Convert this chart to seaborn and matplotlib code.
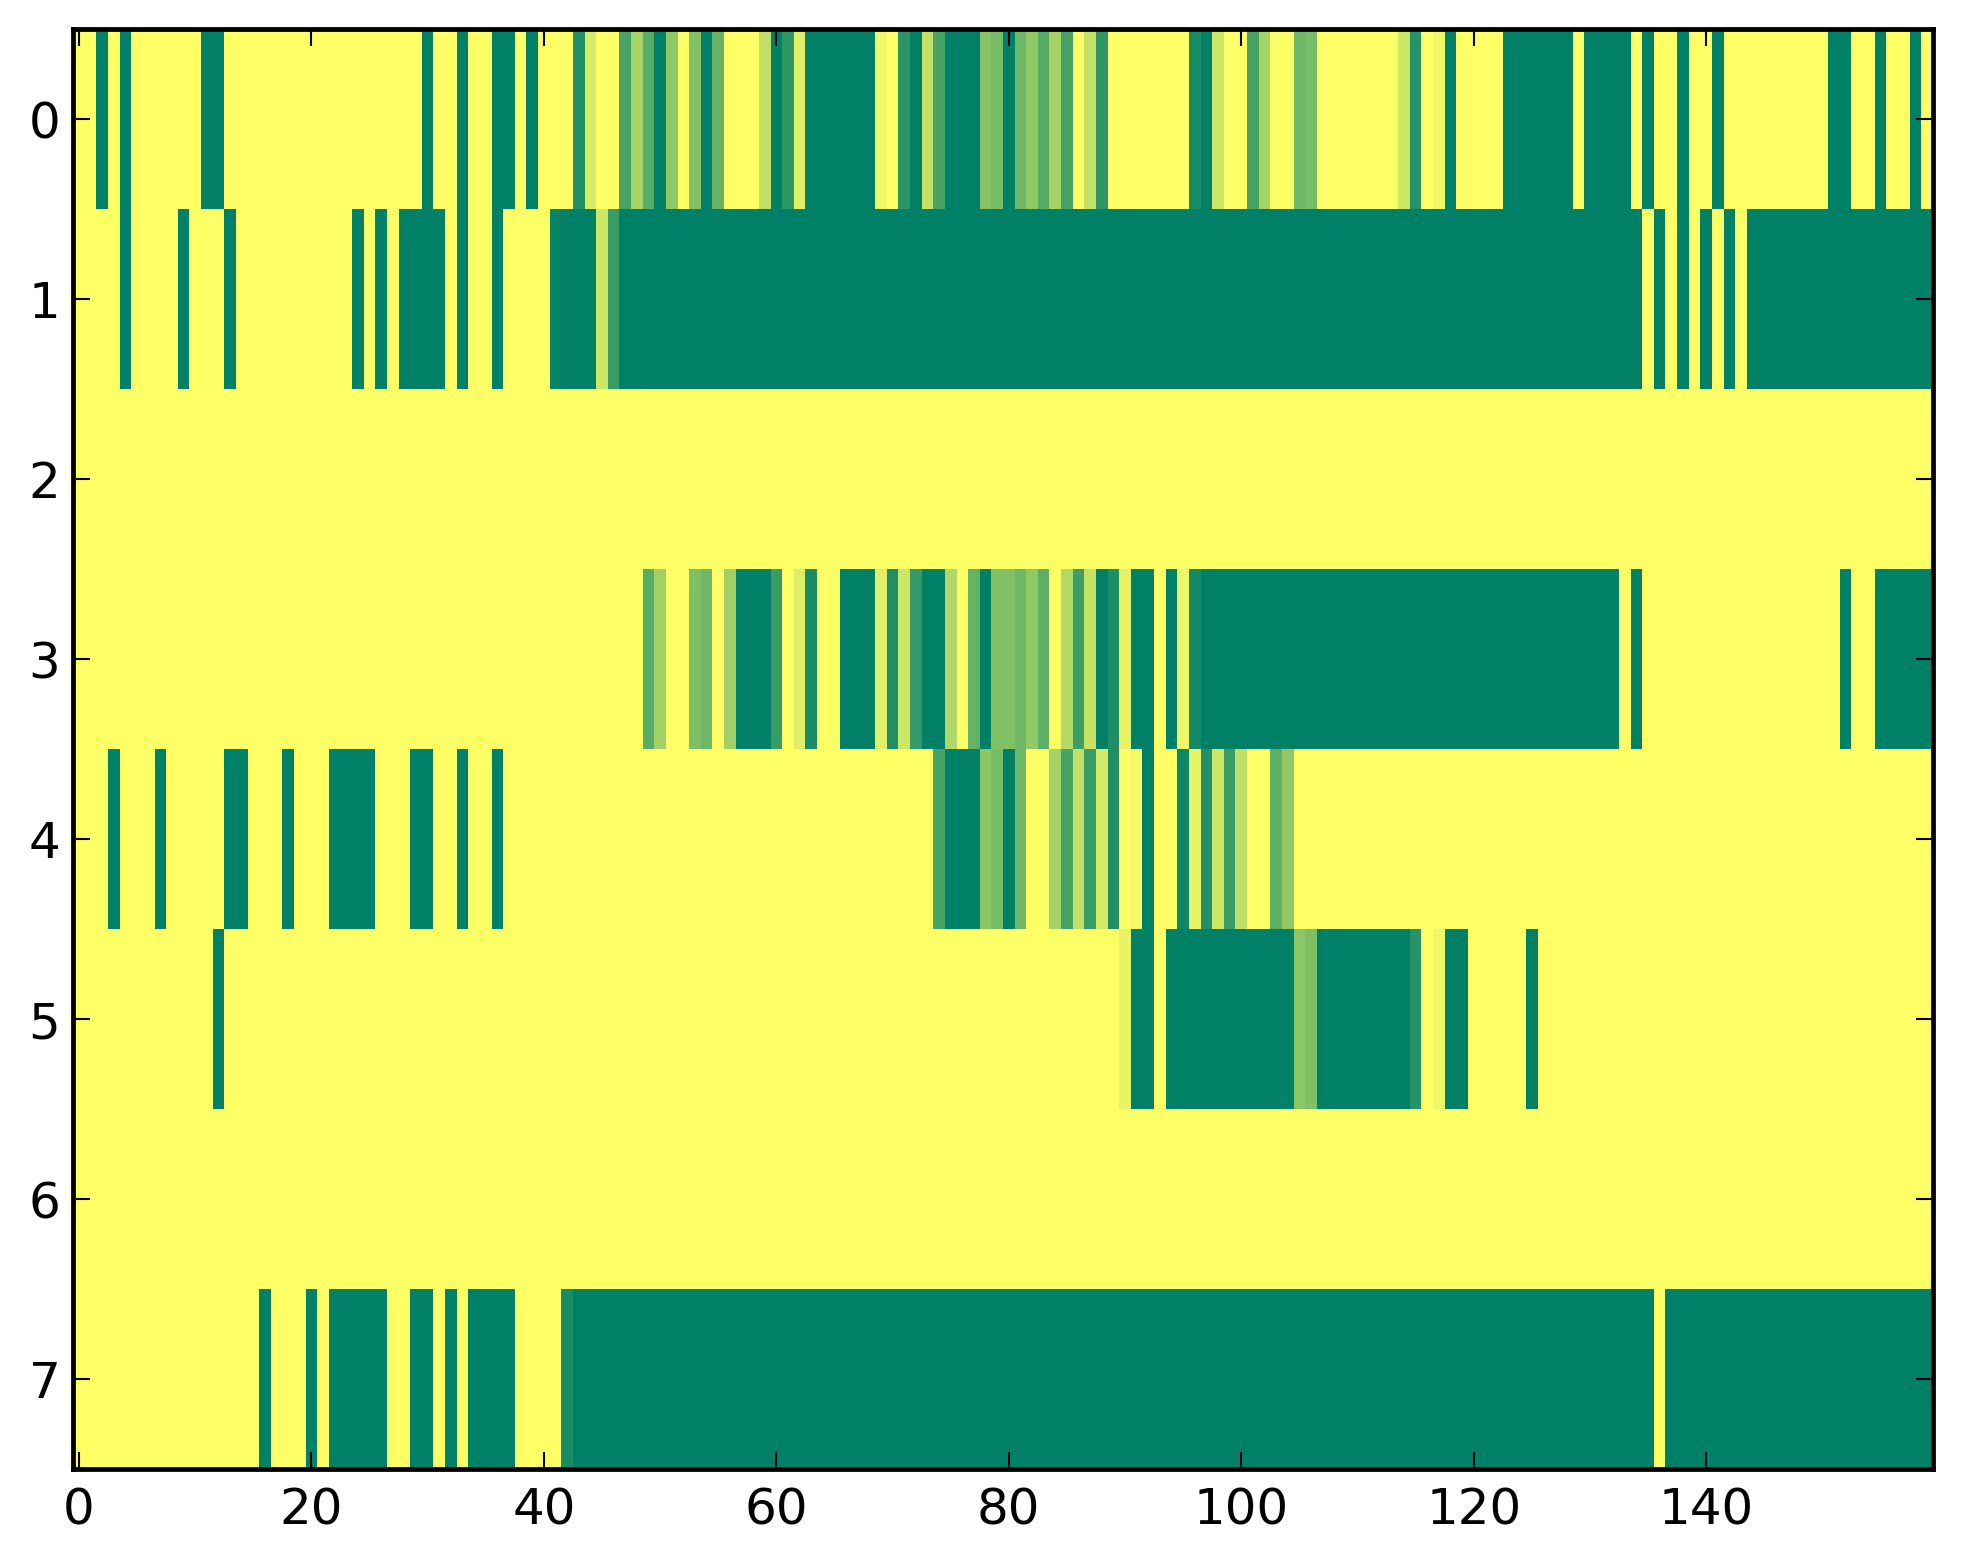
import numpy as np
import pandas as pd
import matplotlib
matplotlib.use("Agg")
import matplotlib.pyplot as plt
import seaborn as sns

# Each row is a list of (value, run length) pairs, 160 columns in all.
row0 = [(0,2),(1,1),(0,1),(1,1),(0,6),(1,2),(0,17),(1,1),(0,2),(1,1),(0,2),(1,2),(0,1),(1,1),(0,3),
        (.87,1),(.15,1),(0,2),(.72,1),(.35,1),(.65,1),(1,1),(.43,1),(0,1),(.49,1),(1,1),(.6,1),(0,3),
        (.25,1),(1,1),(.82,1),(.12,1),(1,6),(.07,1),(0,1),(.83,1),(1,1),(.23,1),(.72,1),(1,3),(.47,1),
        (.53,1),(1,1),(.57,1),(.43,1),(.65,1),(.35,1),(.72,1),(0,1),(.23,1),(.82,1),(0,7),(.9,1),(1,1),
        (.2,1),(0,2),(.72,1),(.35,1),(0,2),(.57,1),(.53,1),(0,7),(.2,1),(.85,1),(0,1),(.06,1),(1,1),(0,4),
        (1,6),(0,1),(1,4),(0,1),(1,1),(0,2),(1,1),(0,2),(1,1),(0,9),(1,2),(0,2),(1,1),(0,2),(1,1),(0,1)]
row1 = [(0,4),(1,1),(0,4),(1,1),(0,3),(1,1),(0,10),(1,1),(0,1),(1,1),(0,1),(1,4),(0,1),(1,1),(0,2),(1,1),
        (0,4),(.97,1),(1,3),(.2,1),(.77,1),(1,88),(0,1),(1,1),(0,1),(1,1),(0,1),(1,1),(0,1),(1,1),(0,1),(1,16)]
row2 = [(0,160)]
row3 = [(0,49),(.65,1),(.37,1),(0,2),(.5,1),(.57,1),(0,1),(.37,1),(1,3),(.78,1),(0,1),(.13,1),(.9,1),(0,1),
        (.02,1),(1,3),(.12,1),(.88,1),(.2,1),(.8,1),(1,2),(.31,1),(0,1),(.6,1),(1,1),(.49,2),(.57,1),(.43,1),
        (.63,1),(0,1),(.3,1),(.76,1),(.22,1),(1,1),(.88,1),(.1,1),(1,2),(0,1),(1,1),(.07,1),(.92,1),(1,36),
        (0,1),(1,1),(0,17),(1,1),(0,2),(1,5)]
row4 = [(0,3),(1,1),(0,3),(1,1),(0,5),(1,2),(0,3),(1,1),(0,3),(1,4),(0,3),(1,2),(0,2),(1,1),(0,2),(1,1),(0,37),
        (.72,1),(1,3),(.45,1),(.53,1),(1,1),(.57,1),(0,2),(.35,1),(.72,1),(.24,1),(.78,1),(.17,1),(.87,1),(0,1),
        (.04,1),(1,1),(0,2),(.95,1),(.1,1),(.87,1),(.2,1),(.78,1),(.25,1),(0,2),(.63,1),(.43,1),(0,55)]
row5 = [(0,12),(1,1),(0,77),(.09,1),(1,1),(.98,1),(0,1),(.98,1),(1,10),(.45,1),(.5,1),(1,8),(.85,1),(0,1),(.07,1),
        (1,2),(0,5),(1,1),(0,34)]
row6 = [(0,160)]
row7 = [(0,16),(1,1),(0,3),(1,1),(0,1),(1,5),(0,2),(1,2),(0,1),(1,1),(0,1),(1,4),(0,4),(.9,1),(1,93),(0,1),(1,23)]
rows = [row0, row1, row2, row3, row4, row5, row6, row7]

x_tick_labels = [0, 20, 40, 60, 80, 100, 120, 140]
y_tick_labels = [0, 1, 2, 3, 4, 5, 6, 7]

matrix = np.array([np.repeat([v for v, _ in r], [n for _, n in r]) for r in rows], dtype=float)
frame = pd.DataFrame(matrix)

plt.rcParams["font.family"] = "DejaVu Sans"
fig = plt.figure(figsize=(1963 / 300, 1564 / 300), dpi=300)
ax = fig.add_axes([73.2 / 1963, 1 - 1469.5 / 1564, (1932.8 - 73.2) / 1963, (1469.5 - 29.5) / 1564])
sns.heatmap(frame, ax=ax, cmap="summer_r", vmin=0, vmax=1, cbar=False,
            xticklabels=False, yticklabels=False, linewidths=0)

ax.set_xticks(np.array(x_tick_labels) + 0.5)
ax.set_xticklabels([str(v) for v in x_tick_labels], rotation=0)
ax.set_yticks(np.array(y_tick_labels) + 0.5)
ax.set_yticklabels([str(v) for v in y_tick_labels], rotation=0)
ax.tick_params(axis="both", which="major", direction="in", length=4, width=0.5,
               top=True, right=True, bottom=True, left=True,
               labelsize=12, color="black", labelcolor="black")
ax.tick_params(axis="x", pad=4)
ax.tick_params(axis="y", pad=3.1)
ax.set_xlabel("")
ax.set_ylabel("")
for side in ax.spines.values():
    side.set_visible(True)
    side.set_linewidth(1.15)
    side.set_color("black")

fig.savefig("out.png", dpi=300)
